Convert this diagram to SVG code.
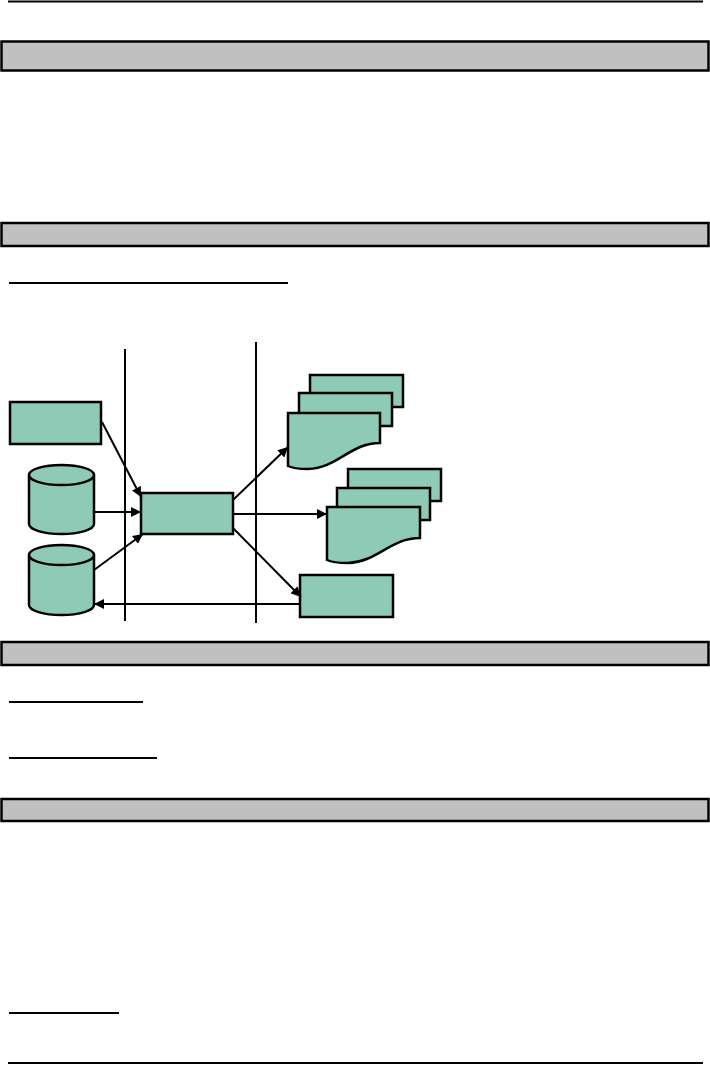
<svg xmlns="http://www.w3.org/2000/svg" width="710" height="1066" viewBox="0 0 710 1066">
<style>
.bar{fill:#c0c0c0;stroke:#000;stroke-width:2.5}
.rule{stroke:#000;stroke-width:2}
.shape{fill:#8fcab7;stroke:#000;stroke-width:2.5}
.conn{stroke:#000;stroke-width:2;fill:none;marker-end:url(#ah)}
.lane{stroke:#000;stroke-width:2}
</style>
<defs>
<marker id="ah" viewBox="0 0 10 10" refX="10" refY="5" markerWidth="5" markerHeight="5" orient="auto" markerUnits="strokeWidth">
<path d="M0,0 L10,5 L0,10 Z" fill="#000"/>
</marker>
</defs>
<rect width="710" height="1066" fill="#fff"/>
<g id="page">
<line class="rule" x1="8" y1="1.5" x2="703" y2="1.5" stroke-width="2.5"/>
<rect class="bar" x="1.5" y="41.5" width="707" height="29"/>
<rect class="bar" x="1.5" y="223" width="707" height="23"/>
<line class="rule" x1="9" y1="283" x2="288" y2="283"/>
<rect class="bar" x="1.5" y="642" width="707" height="23"/>
<line class="rule" x1="9" y1="702" x2="143" y2="702"/>
<line class="rule" x1="9" y1="758" x2="157" y2="758"/>
<rect class="bar" x="1.5" y="799" width="707" height="22"/>
<line class="rule" x1="9" y1="1013" x2="119" y2="1013" stroke-width="1.5"/>
<line class="rule" x1="8" y1="1063" x2="703" y2="1063" stroke-width="3"/>
</g>
<g id="lanes">
<line class="lane" x1="125" y1="349" x2="125" y2="621"/>
<line class="lane" x1="256" y1="342" x2="256" y2="623"/>
</g>
<g id="n-input-rect"><rect class="shape" x="10" y="402" width="91" height="42"/></g>
<g id="n-db1">
<path class="shape" d="M29,475 V524 A32.5,10 0 0 0 94,524 V475"/>
<ellipse class="shape" cx="61.5" cy="475" rx="32.5" ry="10"/>
</g>
<g id="n-db2">
<path class="shape" d="M29,555 V605 A32.5,10 0 0 0 94,605 V555"/>
<ellipse class="shape" cx="61.5" cy="555" rx="32.5" ry="10"/>
</g>
<g id="n-process"><rect class="shape" x="141" y="493" width="92" height="41"/></g>
<g id="n-docs1">
<rect class="shape" x="310" y="375" width="93" height="32"/>
<rect class="shape" x="299" y="393" width="93" height="33"/>
<path class="shape" d="M288,413 H380 V443 C350,443 338,468 308,469 C298,469 292,468 288,466 Z"/>
</g>
<g id="n-docs2">
<rect class="shape" x="348" y="469" width="93" height="32"/>
<rect class="shape" x="337" y="488" width="93" height="32"/>
<path class="shape" d="M327,507 H420 V538 C390,538 378,562 348,563 C338,563 331,562 327,560 Z"/>
</g>
<g id="n-output-rect"><rect class="shape" x="300" y="575" width="93" height="42"/></g>
<g id="connectors">
<line class="conn" x1="102" y1="422" x2="141" y2="497"/>
<line class="conn" x1="94" y1="512" x2="141" y2="512"/>
<line class="conn" x1="94" y1="570" x2="143" y2="534"/>
<line class="conn" x1="233" y1="500" x2="288" y2="447"/>
<line class="conn" x1="233" y1="514" x2="327" y2="514"/>
<line class="conn" x1="233" y1="528" x2="301" y2="597"/>
<line class="conn" x1="300" y1="604" x2="94" y2="604"/>
</g>
</svg>
